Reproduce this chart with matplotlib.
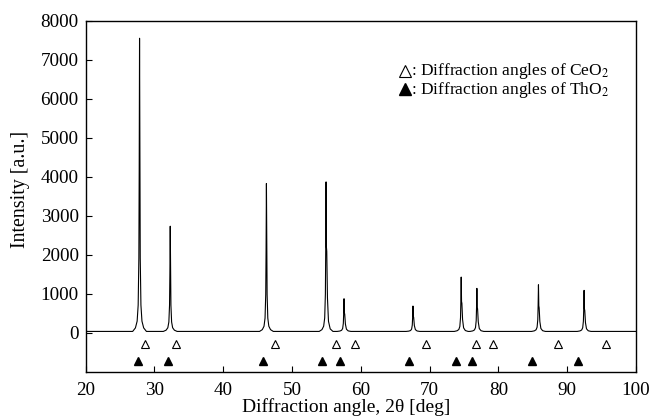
import numpy as np
import matplotlib
matplotlib.use("Agg")
import matplotlib.pyplot as plt

plt.rcParams["font.family"] = ["Liberation Serif", "DejaVu Serif"]
plt.rcParams["mathtext.fontset"] = "stix"

# -----------------------------
# data
# -----------------------------
peak_pos = [27.84, 32.30, 46.28, 54.95, 57.56, 67.58, 74.59, 76.87, 85.82, 92.45]
peak_height = [7550, 2735, 3830, 3870, 877, 690, 1432, 1143, 1235, 1092]
# K-alpha2 shoulder heights (None = not visible)
shoulder_height = [None, None, None, 2200, 510, 420, 800, 650, 675, 605]
baseline = 40

# peak shape (offset in deg, fraction of height)
profile_dx = [-1.0, -0.6, -0.35, -0.2, -0.1, -0.05, -0.02, 0.0, 0.02, 0.05, 0.1, 0.2, 0.35, 0.6, 1.0]
profile_frac = [0.0, 0.012, 0.035, 0.09, 0.25, 0.55, 0.85, 1.0, 0.85, 0.55, 0.25, 0.09, 0.035, 0.012, 0.0]
shoulder_frac = [0.0, 0.0, 0.0, 0.0, 0.0, 0.0, 0.0, 0.0, 1.0, 1.0, 0.95, 0.4, 0.12, 0.03, 0.0]

ceo2_angles = [28.6, 33.1, 47.5, 56.35, 59.1, 69.5, 76.8, 79.2, 88.6, 95.6]
tho2_angles = [27.6, 31.95, 45.8, 54.4, 57.0, 67.0, 73.8, 76.1, 84.9, 91.5]
ceo2_y = -290
tho2_y = -715

# -----------------------------
# build the trace
# -----------------------------
xs = [20.0]
ys = [baseline]
for p, h, h2 in zip(peak_pos, peak_height, shoulder_height):
    for dx, fr, sfr in zip(profile_dx, profile_frac, shoulder_frac):
        y = (h - baseline) * fr
        if h2 is not None:
            y = max(y, (h2 - baseline) * sfr)
        xs.append(p + dx)
        ys.append(baseline + y)
xs.append(100.0)
ys.append(baseline)

# -----------------------------
# plot
# -----------------------------
fig = plt.figure(figsize=(6.51, 4.18), dpi=100)
ax = fig.add_axes([0.1315, 0.110, 0.8455, 0.8405])

ax.plot(xs, ys, color="black", linewidth=0.8)

ax.plot(ceo2_angles, [ceo2_y] * len(ceo2_angles), linestyle="none", marker="^",
        markersize=6, markerfacecolor="white", markeredgecolor="black", markeredgewidth=0.8)
ax.plot(tho2_angles, [tho2_y] * len(tho2_angles), linestyle="none", marker="^",
        markersize=6, markerfacecolor="black", markeredgecolor="black")

ax.set_xlim(20, 100)
ax.set_ylim(-1000, 8000)
ax.set_xticks(np.arange(20, 101, 10))
ax.set_yticks(np.arange(0, 8001, 1000))
ax.tick_params(direction="in", length=4, width=0.8, labelsize=13.8, top=False, right=False)
ax.tick_params(axis="x", pad=7)
ax.tick_params(axis="y", pad=5)
for sp in ax.spines.values():
    sp.set_linewidth(1.0)

ax.set_xlabel("Diffraction angle, 2θ [deg]", fontsize=14)
ax.set_ylabel("Intensity [a.u.]", fontsize=14.4)
ax.xaxis.set_label_coords(0.474, -0.073)
ax.yaxis.set_label_coords(-0.1006, 0.52)

# legend drawn by hand
ax.plot([0.580], [0.856], transform=ax.transAxes, marker="^", markersize=8,
        markerfacecolor="white", markeredgecolor="black", markeredgewidth=0.8, clip_on=False)
ax.plot([0.580], [0.805], transform=ax.transAxes, marker="^", markersize=8,
        markerfacecolor="black", markeredgecolor="black", clip_on=False)
ax.text(0.592, 0.8305,
        ": Diffraction angles of CeO$_2$\n: Diffraction angles of ThO$_2$",
        transform=ax.transAxes, fontsize=12.5, va="center", ha="left", linespacing=0.9)

fig.savefig("out.png", dpi=100)
